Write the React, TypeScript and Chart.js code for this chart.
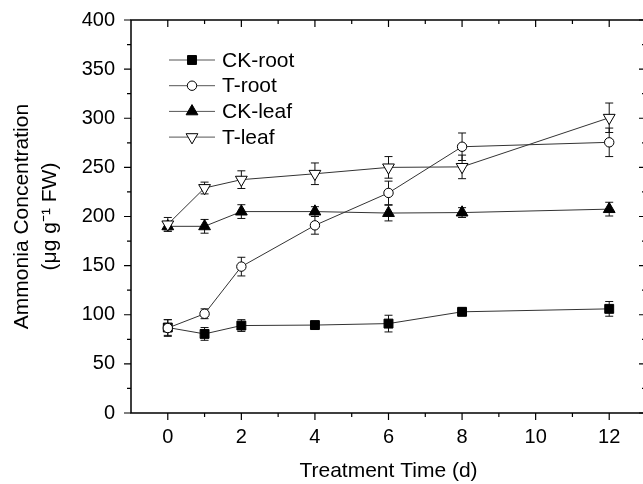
import React, { useEffect, useRef } from 'react';
import { Chart, registerables } from 'chart.js';

Chart.register(...registerables);

// ---- data ----
const days = [0, 1, 2, 4, 6, 8, 12];
const ckRoot = [87, 80.5, 89, 89.5, 91, 103, 106];
const ckRootErr = [8, 6.5, 6, 3, 8.5, 4, 7.5];
const tRoot = [86.5, 101, 149, 191, 224, 271, 275.5];
const tRootErr = [8.5, 5, 9.5, 9, 12, 14, 14.5];
const ckLeaf = [190, 190, 205, 205, 203.5, 204, 207.5];
const ckLeafErr = [5, 7, 7, 5, 8, 5, 7];
const tLeaf = [192, 229, 237.5, 243.5, 250, 250.5, 300.5];
const tLeafErr = [7, 6, 9, 11, 11, 12, 15];

const seriesNames = ['CK-root', 'T-root', 'CK-leaf', 'T-leaf'];

const xTickLabels = [0, 2, 4, 6, 8, 10, 12];
const xMinorTicks = [1, 3, 5, 7, 9, 11];
const yTickLabels = [0, 50, 100, 150, 200, 250, 300, 350, 400];
const yMinorTicks = [25, 75, 125, 175, 225, 275, 325, 375];

const FONT = '"Liberation Sans", Arial, Helvetica, sans-serif';

type Marker = 'rect' | 'circle' | 'triUp' | 'triDown';
const markers: Marker[] = ['rect', 'circle', 'triUp', 'triDown'];
const fills = ['#000', '#fff', '#000', '#fff'];
const values = [ckRoot, tRoot, ckLeaf, tLeaf];
const errors = [ckRootErr, tRootErr, ckLeafErr, tLeafErr];

const radii: Record<Marker, number> = { rect: 6.3, circle: 4.7, triUp: 6.8, triDown: 6.8 };

function drawMarker(ctx: CanvasRenderingContext2D, m: Marker, x: number, y: number, fill: string) {
  ctx.save();
  ctx.fillStyle = fill;
  ctx.strokeStyle = '#000';
  ctx.lineWidth = 1;
  ctx.beginPath();
  const r = radii[m];
  if (m === 'rect') {
    const s = r * Math.SQRT1_2;
    ctx.rect(x - s, y - s, 2 * s, 2 * s);
  } else if (m === 'circle') {
    ctx.arc(x, y, r, 0, Math.PI * 2);
  } else {
    const dir = m === 'triUp' ? 1 : -1;
    for (let k = 0; k < 3; k++) {
      const a = (k * 2 * Math.PI) / 3;
      const px = x + Math.sin(a) * r;
      const py = y - dir * Math.cos(a) * r;
      if (k === 0) ctx.moveTo(px, py);
      else ctx.lineTo(px, py);
    }
    ctx.closePath();
  }
  ctx.fill();
  ctx.stroke();
  ctx.restore();
}

const framePlugin = {
  id: 'frame',
  beforeDatasetsDraw(chart: any) {
    const ctx: CanvasRenderingContext2D = chart.ctx;
    const { left, right, top, bottom } = chart.chartArea;
    const xs = chart.scales.x;
    const ys = chart.scales.y;
    ctx.save();
    ctx.strokeStyle = '#000';
    ctx.lineWidth = 1.5;
    ctx.beginPath();
    ctx.rect(left, top, right - left, bottom - top);
    ctx.stroke();
    ctx.lineWidth = 1.2;
    ctx.beginPath();
    const major = 7;
    const minor = 4;
    const xt = (v: number, len: number) => {
      const px = xs.getPixelForValue(v);
      ctx.moveTo(px, bottom);
      ctx.lineTo(px, bottom + len);
      ctx.moveTo(px, top);
      ctx.lineTo(px, top + len);
    };
    const yt = (v: number, len: number) => {
      const py = ys.getPixelForValue(v);
      ctx.moveTo(left, py);
      ctx.lineTo(left - len, py);
      ctx.moveTo(right, py);
      ctx.lineTo(right - len, py);
    };
    xTickLabels.forEach((v) => xt(v, major));
    xMinorTicks.forEach((v) => xt(v, minor));
    yTickLabels.forEach((v) => yt(v, major));
    yMinorTicks.forEach((v) => yt(v, minor));
    ctx.stroke();

    // error bars
    ctx.lineWidth = 1;
    ctx.strokeStyle = '#111';
    ctx.beginPath();
    values.forEach((vals, si) => {
      vals.forEach((v, i) => {
        const e = errors[si][i];
        const px = xs.getPixelForValue(days[i]);
        const y1 = ys.getPixelForValue(v + e);
        const y2 = ys.getPixelForValue(v - e);
        ctx.moveTo(px, y1);
        ctx.lineTo(px, y2);
        ctx.moveTo(px - 4, y1);
        ctx.lineTo(px + 4, y1);
        ctx.moveTo(px - 4, y2);
        ctx.lineTo(px + 4, y2);
      });
    });
    ctx.stroke();
    ctx.restore();
  },
  afterDatasetsDraw(chart: any) {
    const ctx: CanvasRenderingContext2D = chart.ctx;
    ctx.save();
    const x0 = 169;
    const x1 = 215;
    const mx = 192;
    seriesNames.forEach((name, i) => {
      const y = 60 + i * 25.7;
      ctx.strokeStyle = '#555';
      ctx.lineWidth = 1;
      ctx.beginPath();
      ctx.moveTo(x0, y);
      ctx.lineTo(x1, y);
      ctx.stroke();
      drawMarker(ctx, markers[i], mx, y, fills[i]);
      ctx.fillStyle = '#000';
      ctx.font = `21px ${FONT}`;
      ctx.textBaseline = 'middle';
      ctx.textAlign = 'left';
      ctx.fillText(name, 222, y + 1);
    });
    ctx.restore();
  },
};

export default function App() {
  const ref = useRef<HTMLCanvasElement | null>(null);
  useEffect(() => {
    document.body.style.margin = '0';
    const canvas = ref.current!;
    const pointStyles = ['rect', 'circle', 'triangle', 'triangle'];
    const rotations = [0, 0, 0, 180];
    const orders = [4, 3, 2, 1];
    const chart = new Chart(canvas, {
      type: 'line',
      data: {
        datasets: seriesNames.map((name, si) => ({
          label: name,
          data: days.map((d, i) => ({ x: d, y: values[si][i] })),
          borderColor: '#333',
          borderWidth: 1,
          pointStyle: pointStyles[si] as any,
          pointRotation: rotations[si],
          pointRadius: radii[markers[si]],
          pointHoverRadius: radii[markers[si]],
          pointBackgroundColor: fills[si],
          pointBorderColor: '#000',
          pointBorderWidth: 1,
          tension: 0,
          fill: false,
          clip: false as any,
          order: orders[si],
        })),
      },
      options: {
        animation: false,
        responsive: false,
        devicePixelRatio: 1,
        layout: { autoPadding: false, padding: { top: 20, right: 4, left: 0, bottom: 0 } },
        plugins: { legend: { display: false }, tooltip: { enabled: false } },
        events: [],
        scales: {
          x: {
            type: 'linear',
            min: -1,
            max: 13,
            afterBuildTicks: (s: any) => {
              s.ticks = xTickLabels.map((v) => ({ value: v }));
            },
            afterFit: (s: any) => {
              s.height = 71;
              s.paddingLeft = 0;
              s.paddingRight = 0;
            },
            grid: { display: false, drawTicks: false },
            border: { display: false },
            ticks: {
              color: '#000',
              font: { family: FONT, size: 20 },
              padding: 12,
              maxRotation: 0,
              autoSkip: false,
            },
            title: {
              display: true,
              text: 'Treatment Time (d)',
              color: '#000',
              font: { family: FONT, size: 21 },
              padding: { top: 0, bottom: 0 },
            },
          },
          y: {
            type: 'linear',
            min: 0,
            max: 400,
            afterBuildTicks: (s: any) => {
              s.ticks = yTickLabels.map((v) => ({ value: v }));
            },
            afterFit: (s: any) => {
              s.width = 131;
              s.paddingTop = 0;
              s.paddingBottom = 0;
            },
            grid: { display: false, drawTicks: false },
            border: { display: false },
            ticks: {
              color: '#000',
              font: { family: FONT, size: 20 },
              padding: 16,
              autoSkip: false,
            },
            title: {
              display: true,
              text: ['Ammonia Concentration', '(\u03bcg g\u207b\u00b9 FW)'],
              color: '#000',
              font: { family: FONT, size: 21, lineHeight: 1.3 },
              padding: { top: 9, bottom: 0 },
            },
          },
        },
      },
      plugins: [framePlugin],
    });
    return () => chart.destroy();
  }, []);
  return (
    <div style={{ width: 643, height: 484, overflow: 'hidden', position: 'relative' }}>
      <canvas ref={ref} width={650} height={484} style={{ display: 'block', width: 650, height: 484 }} />
    </div>
  );
}
